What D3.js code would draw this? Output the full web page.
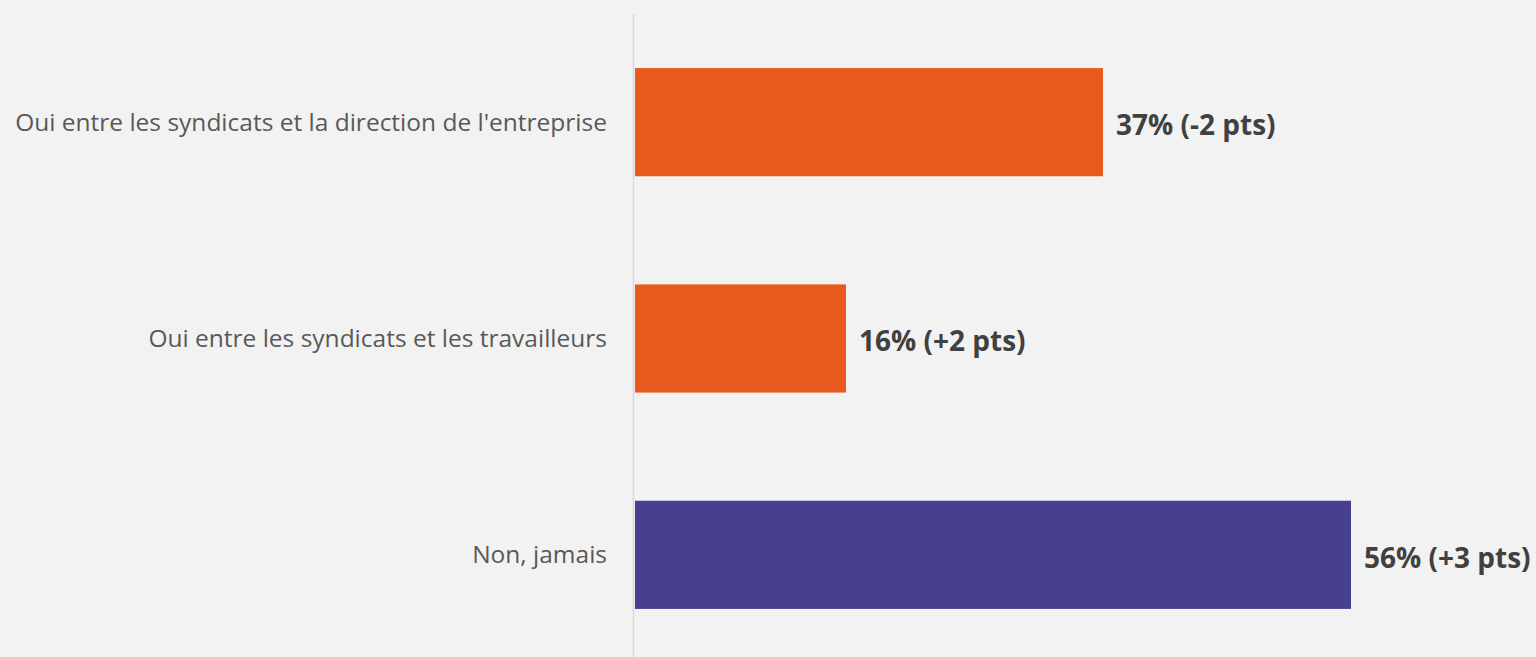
<!DOCTYPE html>
<html>
<head>
<meta charset="utf-8">
<script src="https://cdn.jsdelivr.net/npm/d3@7"></script>
<style>
  html, body { margin: 0; padding: 0; background: #f2f2f2; }
  svg { display: block; }
</style>
</head>
<body>
<svg id="chart"></svg>
<script>
const categories = [
    "Oui entre les syndicats et la direction de l'entreprise",
    "Oui entre les syndicats et les travailleurs",
    "Non, jamais"
];
const values = [36.6, 16.5, 56.0];
const valueLabels = ["37% (-2 pts)", "16% (+2 pts)", "56% (+3 pts)"];
const barColors = ["#e8591e", "#e8591e", "#46408e"];

const width = 1536;
const height = 657;
const x0 = 635;

const svg = d3.select('#chart')
    .attr('width', width)
    .attr('height', height);

svg.append('rect')
    .attr('width', width)
    .attr('height', height)
    .attr('fill', '#f2f2f2');

const x = d3.scaleLinear()
    .domain([0, 56.0])
    .range([x0, 1351]);

const y = d3.scaleBand()
    .domain(categories)
    .range([14, 663])
    .paddingInner(0.5)
    .paddingOuter(0.25);

// axis line
svg.append('line')
    .attr('x1', x0 - 1.5)
    .attr('x2', x0 - 1.5)
    .attr('y1', 14)
    .attr('y2', height)
    .style('stroke', '#d9d9d9')
    .style('stroke-width', 1.5);

svg.selectAll('.bar')
    .data(categories)
    .enter().append('rect')
    .attr('class', 'bar')
    .attr('x', x(0))
    .attr('y', d => y(d))
    .attr('width', (d, i) => x(values[i]) - x(0))
    .attr('height', y.bandwidth())
    .attr('fill', (d, i) => barColors[i]);

svg.selectAll('.cat')
    .data(categories)
    .enter().append('text')
    .attr('class', 'cat')
    .attr('x', 607)
    .attr('y', d => y(d) + y.bandwidth() / 2)
    .attr('dy', '0.35em')
    .attr('text-anchor', 'end')
    .style('font-family', '"Open Sans", sans-serif')
    .style('font-size', '24.5px')
    .style('fill', '#595959')
    .text(d => d);

svg.selectAll('.val')
    .data(categories)
    .enter().append('text')
    .attr('class', 'val')
    .attr('x', (d, i) => x(values[i]) + 13)
    .attr('y', d => y(d) + y.bandwidth() / 2 + 3)
    .attr('dy', '0.35em')
    .style('font-family', '"Open Sans", sans-serif')
    .style('font-weight', 'bold')
    .style('font-size', '28px')
    .style('fill', '#404040')
    .text((d, i) => valueLabels[i]);
</script>
</body>
</html>
